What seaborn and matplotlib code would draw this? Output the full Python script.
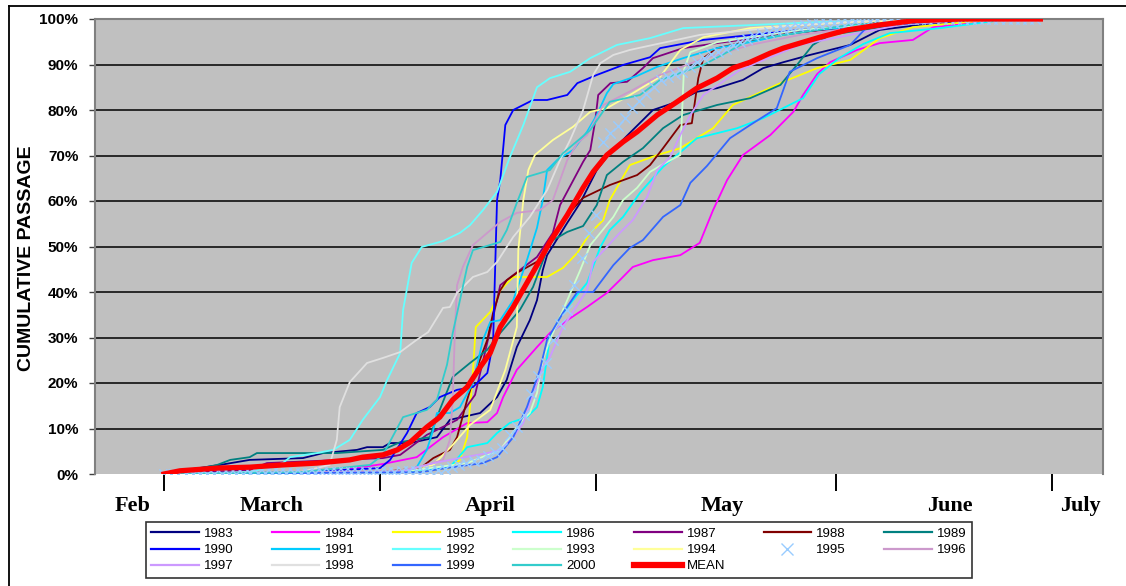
import numpy as np
import pandas as pd
import matplotlib
matplotlib.use("Agg")
import matplotlib.pyplot as plt
from matplotlib.lines import Line2D
import seaborn as sns

# day index: 0 = 1 March, values are cumulative passage in percent
s1983 = [(0, 0), (4, 1.1), (7.8, 2), (11.9, 3.1), (19.3, 3.5), (22.1, 4.6), (26.8, 5.3), (28.2, 5.9),
         (30.4, 5.9), (31.4, 6.8), (34.2, 6.8), (37.9, 8.1), (39.7, 11.9), (43.9, 13.4), (46.25, 16.9),
         (47.6, 20.7), (49, 27.9), (50.8, 33.8), (51.8, 38.2), (52.6, 44.8), (53.2, 48.1), (56, 55.2),
         (57.8, 59.6), (60.1, 66.8), (61.9, 70.5), (65.1, 75.6), (67.9, 80), (71.25, 81.8), (74, 84),
         (76.8, 84.8), (80.4, 86.6), (83.2, 89.2), (86, 90.5), (89.7, 92.1), (95.3, 94.3), (99.4, 97.6),
         (106.8, 99.1), (116, 100)]
s1984 = [(0, 0), (23, 0.4), (30.4, 2.2), (35.1, 3.7), (38.75, 8.1), (42.1, 11.2), (44.9, 11.4),
         (46.25, 13.4), (47.1, 16.9), (49, 22.9), (51.8, 27.9), (53.6, 31), (56, 33.8), (58.75, 36.7),
         (61.5, 39.8), (63.3, 42.6), (65.1, 45.5), (67.9, 47), (71.7, 48.1), (74.4, 50.8), (76.25, 58),
         (78.2, 64.6), (80.4, 70.1), (84.2, 74.5), (87.4, 79.6), (88.75, 83.3), (90.7, 87.9), (92.5, 90.5),
         (96.25, 93.2), (99.4, 94.7), (104, 95.4), (106.8, 98.2), (113.3, 99.3), (117.5, 100)]
s1985 = [(0, 0), (35.6, 0.7), (39.7, 1.3), (41.1, 3.1), (42.1, 8.1), (42.8, 20), (43.3, 32.3),
         (45.3, 35.6), (46.7, 40.4), (48.5, 43.3), (53.2, 43.3), (55.4, 45.3), (57.4, 48.6), (59.2, 53),
         (61, 55.8), (61.9, 60.2), (64.7, 67.9), (68.5, 70.1), (71.7, 71.6), (76.25, 76), (79, 81.1),
         (86, 86.2), (90.7, 89.2), (95.3, 91), (99.4, 95.8), (104, 98.2), (116, 100)]
s1986 = [(0, 0), (32.8, 0.4), (39.7, 1.5), (42.1, 5.9), (44.9, 6.8), (46.25, 9), (48, 11.2),
         (50.4, 12.5), (51.8, 14.7), (52.6, 19.1), (53.6, 30.1), (55, 34.5), (56.8, 38.2), (58.75, 42),
         (60.6, 49.9), (61.9, 53.6), (63.75, 56.5), (66.1, 61.8), (69.3, 67.5), (74, 73.8), (79.6, 76),
         (83.2, 78.2), (88.75, 82.6), (91, 87.9), (93.75, 91.4), (97.1, 94.5), (100.8, 96.9),
         (107.8, 98), (117.5, 100)]
s1987 = [(0, 0), (11.9, 0.9), (14.3, 2.4), (30.4, 3.5), (32.8, 4.2), (36.5, 8.6), (40.7, 11.9),
         (43.2, 17.4), (45.3, 31.6), (46.7, 41.5), (49.4, 44.8), (51.8, 47.7), (54, 53), (55, 59.1),
         (58.2, 68.6), (59.2, 71.2), (59.9, 77.8), (60.3, 83.3), (62, 85.9), (64.3, 86.2), (66.5, 89.2),
         (67.9, 91.4), (72.1, 93.6), (76.8, 94.7), (88.3, 97.1), (102.2, 99.3), (116, 100)]
s1988 = [(0, 0), (30, 0.4), (35.6, 1.3), (37.4, 3.5), (39.7, 5.3), (40.7, 8.1), (42.1, 16.3),
         (43.5, 23.5), (44.9, 29.5), (45.7, 35.4), (46.7, 40.4), (47.6, 42.6), (49, 44.2), (52.2, 47),
         (53.6, 50.3), (56, 56.9), (58.2, 60.7), (61.9, 63.5), (65.7, 65.7), (67.5, 67.9), (69.3, 71.6),
         (71.7, 76.7), (73.3, 77.1), (74.2, 87), (74.9, 91.4), (76.8, 93.6), (85.6, 96.5), (99.4, 99.3),
         (113.3, 100)]
s1989 = [(0, 0), (4, 0.9), (7.4, 2), (9.2, 3.1), (11.9, 3.7), (12.9, 4.6), (24, 4.6), (30.4, 5.3),
         (32.8, 7), (36.9, 8.1), (38.3, 14.1), (40.1, 21.3), (42.5, 24.4), (44.9, 27.3), (46.7, 31),
         (49.4, 36), (51.25, 41.1), (53.6, 51), (56, 53.2), (58.2, 54.5), (60.1, 59.1), (61.5, 65.7),
         (63.75, 68.6), (66.5, 71.6), (69.3, 76), (72.1, 78.9), (76.8, 81.1), (81.4, 82.6), (85.6, 85.5),
         (87.9, 89.9), (90.1, 94.3), (92.5, 96.5), (102.2, 98.9), (113.3, 100)]
s1990 = [(0, 0), (18.9, 0.4), (30, 1.3), (31.4, 3.1), (33.75, 9), (35.1, 13.4), (36.9, 14.7),
         (38.3, 16.9), (40.7, 18.5), (42.9, 19.1), (44.9, 22.2), (45.7, 28.8), (46.25, 60.2),
         (46.7, 64.6), (47.4, 76.7), (48.5, 80), (51.25, 82.2), (53.2, 82.2), (56, 83.3), (57.4, 85.9),
         (60.1, 87.7), (63.75, 89.9), (67.5, 91.6), (68.9, 93.6), (74.9, 95.4), (88.3, 97.6),
         (102.2, 99.3), (116, 100)]
s1991 = [(0, 0), (32.8, 0.4), (35.1, 1.5), (36.5, 5.3), (37.4, 9.7), (37.9, 13.4), (39.7, 13.4),
         (41.1, 14.7), (42.9, 20), (44.3, 29.5), (45.3, 33.4), (46.7, 33.8), (48.5, 38.2), (50.4, 47),
         (51.8, 54.1), (52.6, 60.2), (53.2, 66.8), (54.6, 69), (56.8, 71.2), (58.75, 75.2), (60.1, 78.9),
         (61.5, 83.7), (62.4, 85.7), (65.7, 87.5), (68.5, 89.5), (72.1, 91.4), (76.8, 93.6), (81.4, 94.9),
         (86, 96.5), (90.7, 97.6), (102.2, 99.3), (114.7, 100)]
s1992 = [(0, 0), (11.9, 0.4), (16.5, 2.4), (17.5, 3.7), (21.25, 4.6), (23.5, 5.3), (25.8, 7.5),
         (27.6, 11.9), (30, 16.9), (31, 20.7), (32.8, 26.6), (33.2, 36), (34.4, 46.4), (35.8, 49.9),
         (38.75, 51.2), (41.1, 53), (42.5, 54.7), (44.3, 58), (46.25, 62), (48, 69.5), (49.9, 76.7),
         (51.8, 85), (53.6, 87), (56.4, 88.4), (59.2, 91.4), (62.9, 94.3), (67.5, 95.8), (72.1, 98),
         (90.7, 99.3), (109.2, 100)]
s1993 = [(0, 0), (32.8, 0.4), (42.1, 2.4), (46.7, 5.3), (49.4, 11.2), (50.8, 13.4), (51.8, 17.8),
         (52.6, 25.1), (53.6, 29.5), (55.4, 36), (57.8, 44.8), (59.2, 50.3), (60.6, 53), (62.4, 56.5),
         (63.75, 60.2), (65.7, 62.9), (67.5, 66.4), (69.3, 68.1), (71.7, 70.1), (72.2, 88.8),
         (73.1, 92.7), (76.8, 94.9), (88.3, 97.6), (102.2, 99.3), (113.3, 100)]
s1994 = [(0, 0), (31.4, 0.4), (37.4, 2), (40.1, 6.4), (42.5, 10.8), (45.3, 14.1), (47.4, 22.9),
         (49, 32.3), (49.2, 49.2), (49.9, 60.2), (50.6, 66.8), (51.5, 70.1), (54, 73.4), (56.8, 76.3),
         (59.2, 79.6), (61.5, 80.4), (64.7, 83.3), (68.9, 87.3), (71.7, 93.2), (74.9, 96), (81.4, 98),
         (95.3, 99.3), (109.2, 100)]
# 1995 is drawn as markers only, one value per day
p1995 = [0, 0, 0, 0, 0, 0, 0, 0, 0, 0,
         0, 0, 0.2, 0.2, 0.2, 0.2, 0.2, 0.3, 0.3, 0.3,
         0.3, 0.3, 0.4, 0.4, 0.4, 0.4, 0.4, 0.5, 0.5, 0.5,
         0.5, 0.5, 0.5, 0.6, 0.6, 0.6, 0.7, 0.7, 0.9, 1.2,
         1.6, 2.0, 2.4, 2.8, 3.1, 4.0, 4.8, 5.7, 8.5, 10.3,
         13.0, 17.5, 21.5, 24.5, 29.5, 33.0, 36.0, 41.5, 47.5, 53.0,
         57.0, 73.0, 75.0, 76.5, 78.3, 80.5, 82.0, 83.5, 85.0, 86.5,
         87.3, 88.0, 88.4, 89.5, 90.5, 91.4, 92.2, 92.7, 93.5, 94.3,
         95.0, 95.6, 96.2, 96.7, 97.1, 97.5, 97.8, 98.1, 98.4, 98.6,
         98.8, 99.0, 99.1, 99.2, 99.3, 99.4, 99.5, 99.6, 99.6, 99.7,
         99.7, 99.8, 99.8, 99.9, 99.9, 99.9, 100, 100, 100, 100,
         100, 100, 100, 100, 100, 100, 100, 100, 100, 100, 100, 100]
s1996 = [(0, 0), (32.8, 0.7), (36.5, 2), (38.75, 3.1), (39.7, 7.5), (40.1, 16.3), (40.4, 31.6),
         (40.7, 41.5), (41.5, 45.5), (42.9, 50.3), (44.9, 53), (46.7, 55.4), (49, 57.4), (52.2, 58),
         (54, 60.2), (56, 69), (57.4, 72.7), (58.75, 74.5), (61, 81.1), (65.1, 84.4), (68.9, 87.7),
         (74.4, 91), (81.4, 94.3), (88.3, 96.5), (99.4, 98.7), (110.6, 100)]
s1997 = [(0, 0), (32.8, 0.4), (36.9, 2.2), (39.7, 3.1), (44.9, 4.6), (46.7, 5.3), (48.5, 8.1),
         (49.9, 11.2), (50.8, 15.6), (52.6, 23.5), (53.6, 25.7), (55.4, 32.3), (58.75, 40.4),
         (59.6, 46.6), (61.5, 49.9), (63.3, 53), (65.1, 55.8), (67.1, 60.9), (68.5, 66.8), (70.3, 69.7),
         (71.7, 74.5), (73.1, 78.9), (74.9, 83.3), (80, 88.8), (88.3, 94.3), (102.2, 98.7), (113.3, 100)]
s1998 = [(0, 0), (18.9, 0.4), (23, 2), (24, 7.5), (24.4, 14.7), (25.8, 20.2), (28.2, 24.4),
         (30.4, 25.5), (32.8, 26.8), (35.1, 29.5), (36.7, 31.2), (38.75, 36.5), (39.7, 36.7),
         (40.7, 39.8), (42.9, 43.3), (44.9, 44.4), (46.25, 46.6), (48.5, 52.1), (50.8, 56.5),
         (53.2, 62.4), (55, 69), (56.4, 73.4), (58.2, 80), (59.6, 87.7), (60.6, 90.3), (62.4, 92.1),
         (64.7, 93.2), (67.9, 94.3), (74.4, 96.5), (88.3, 98.7), (102.2, 100)]
s1999 = [(0, 0), (35.6, 0.4), (40.1, 1.5), (44.3, 2.4), (46.25, 3.7), (48.5, 8.1), (50.4, 14.7),
         (52.2, 22.9), (53.2, 29.5), (55.4, 35.4), (57.4, 40), (59.6, 40), (62.4, 45.9), (64.7, 49.7),
         (66.5, 51.4), (69.3, 56.5), (71.7, 59.1), (73.1, 64), (75.4, 67.7), (78.6, 73.8), (81.4, 76.7),
         (85.1, 80.4), (86.9, 88.4), (90.7, 91.4), (95.3, 94.3), (97.6, 98.2), (109.2, 99.8), (116, 100)]
s2000 = [(0, 0), (18.9, 0.4), (28.6, 2), (30.4, 4.2), (33.2, 12.5), (36.5, 14.1), (37.9, 16.3),
         (39.3, 24), (40.1, 31), (41.1, 38.2), (42.1, 45.5), (42.9, 49.2), (46.7, 51), (47.6, 53.6),
         (49, 59.6), (50.4, 65.3), (53.6, 66.8), (55.4, 70.5), (59.2, 75.6), (61.9, 81.8), (66.1, 83.3),
         (68.9, 86.6), (74.9, 89.9), (81.4, 95.4), (95.3, 98.7), (109.2, 100)]
s_mean = [(0, 0), (2.2, 0.7), (7.4, 1.3), (11.9, 1.5), (16.5, 2), (21.25, 2.4), (25.8, 3.1),
          (27.6, 3.7), (30.4, 4.2), (32.4, 5.3), (34.2, 7), (36.5, 10.3), (38.3, 12.5), (40.1, 16.3),
          (42.1, 19.1), (43.9, 23.5), (45.3, 26.6), (46.7, 32.3), (48.5, 36.7), (50.4, 42), (52.2, 47),
          (53.6, 51), (56, 56.9), (58.2, 62.9), (59.6, 66.4), (61.5, 70.1), (63.75, 73), (65.7, 75.2),
          (68.5, 78.9), (71.25, 81.8), (74, 84.8), (76.8, 87), (79, 89.2), (81.4, 90.5), (84.2, 92.5),
          (86, 93.6), (88.75, 94.9), (91.1, 96), (94.9, 97.6), (99.4, 98.7), (104, 99.6), (110.6, 100),
          (121.7, 100)]

years = ["1983", "1984", "1985", "1986", "1987", "1988", "1989", "1990", "1991", "1992",
         "1993", "1994", "1995", "1996", "1997", "1998", "1999", "2000"]
colors = ["#000080", "#FF00FF", "#FFFF00", "#00FFFF", "#800080", "#800000", "#008080",
          "#0000FF", "#00CCFF", "#66FFFF", "#CCFFCC", "#FFFF99", "#99CCFF", "#CC99CC",
          "#CC99FF", "#E0E0E0", "#3366FF", "#33CCCC"]
line_series = {"1983": s1983, "1984": s1984, "1985": s1985, "1986": s1986, "1987": s1987,
               "1988": s1988, "1989": s1989, "1990": s1990, "1991": s1991, "1992": s1992,
               "1993": s1993, "1994": s1994, "1996": s1996, "1997": s1997, "1998": s1998,
               "1999": s1999, "2000": s2000}

month_labels = ["Feb", "March", "April", "May", "June", "July"]
month_label_pos = [-4.3, 14.9, 45.3, 77.5, 109.2, 127.2]
month_ticks = [0, 30, 60, 93.3, 123.3]

fig = plt.figure(figsize=(11.26, 5.86), dpi=100)
ax = fig.add_axes([95 / 1126, 112 / 586, 1008 / 1126, 455 / 586])
ax.set_facecolor("#C0C0C0")

for yv in range(10, 100, 10):
    ax.axhline(yv, color="black", lw=1.1, zorder=1)

for yr, col in zip(years, colors):
    if yr == "1995":
        df95 = pd.DataFrame({"day": np.arange(len(p1995)), "pct": p1995})
        sns.scatterplot(data=df95, x="day", y="pct", ax=ax, marker="x", color=col,
                        s=55, linewidth=1.0, zorder=3, legend=False)
        continue
    df = pd.DataFrame(line_series[yr], columns=["day", "pct"])
    sns.lineplot(data=df, x="day", y="pct", ax=ax, color=col, lw=1.3,
                 estimator=None, sort=False, zorder=2, legend=False)

dfm = pd.DataFrame(s_mean, columns=["day", "pct"])
sns.lineplot(data=dfm, x="day", y="pct", ax=ax, color="#FF0000", lw=3.8,
             estimator=None, sort=False, zorder=4, legend=False)

ax.set_xlim(-9.58, 130.4)
ax.set_ylim(0, 100)
ax.set_xlabel("")
ax.set_ylabel("")

ax.set_yticks(range(0, 101, 10))
ax.set_yticklabels([f"{v}%" for v in range(0, 101, 10)], fontsize=11, fontweight="bold",
                   family="Liberation Sans")
ax.tick_params(axis="y", length=4, width=1, color="#404040", pad=8)

ax.set_xticks(month_ticks)
ax.set_xticklabels([])
ax.tick_params(axis="x", which="major", length=12, width=1.4, color="black", direction="out")
ax.set_xticks(month_label_pos, minor=True)
ax.set_xticklabels(month_labels, minor=True, fontsize=16, fontweight="bold",
                   family="Liberation Serif")
ax.tick_params(axis="x", which="minor", length=0, pad=16)

for side in ["left", "right", "top"]:
    ax.spines[side].set_color("#808080")
    ax.spines[side].set_linewidth(1.5)
ax.spines["bottom"].set_visible(False)

fig.text(27 / 1126, 1 - 258 / 586, "CUMULATIVE PASSAGE", rotation=90, ha="center", va="center",
         fontsize=14, fontweight="bold", family="Liberation Sans")

# legend (row-major order like the original)
handles = []
labels = []
for yr, col in zip(years, colors):
    if yr == "1995":
        handles.append(Line2D([], [], ls="none", marker="x", color=col, markersize=8, mew=1))
    else:
        handles.append(Line2D([], [], color=col, lw=1.6))
    labels.append(yr)
handles.append(Line2D([], [], color="#FF0000", lw=4.5))
labels.append("MEAN")

ncol, nrow = 7, 3
order = [r * ncol + c for c in range(ncol) for r in range(nrow) if r * ncol + c < len(handles)]
leg = fig.legend([handles[i] for i in order], [labels[i] for i in order], ncol=ncol,
                 loc="center", bbox_to_anchor=(146 / 1126, 7 / 586, 826 / 1126, 58 / 586),
                 mode="expand", frameon=True, fancybox=False, edgecolor="black",
                 prop={"family": "Liberation Sans", "size": 9.5}, handlelength=3.6,
                 handletextpad=0.4, labelspacing=0.3, borderpad=0.4, borderaxespad=0)
leg.get_frame().set_linewidth(1.2)

# figure border (left and top visible in the original)
fig.add_artist(Line2D([9 / 1126, 9 / 1126], [0, 1 - 6 / 586], color="black", lw=1.3,
                      transform=fig.transFigure))
fig.add_artist(Line2D([9 / 1126, 1], [1 - 6 / 586, 1 - 6 / 586], color="black", lw=1.3,
                      transform=fig.transFigure))

fig.savefig("out.png", dpi=100)
